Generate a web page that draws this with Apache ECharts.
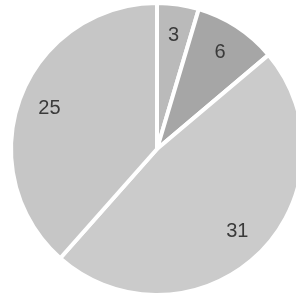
<!DOCTYPE html>
<html>
<head>
<meta charset="utf-8">
<style>
  html, body { margin: 0; padding: 0; background: #fff; }
  #chart { width: 296px; height: 297px; }
</style>
<script src="https://cdn.jsdelivr.net/npm/echarts@6/dist/echarts.min.js"></script>
</head>
<body>
<div id="chart"></div>
<script>
const values = [3, 6, 31, 25];
const colors = ['#bababa', '#a6a6a6', '#cbcbcb', '#c6c6c6'];

const chart = echarts.init(document.getElementById('chart'));

const center = [157, 149];

chart.setOption({
  animation: false,
  series: [
    {
      type: 'pie',
      center: center,
      radius: 146,
      startAngle: 90,
      clockwise: true,
      silent: true,
      label: { show: false },
      labelLine: { show: false },
      itemStyle: { borderColor: '#fff', borderWidth: 4 },
      data: values.map((v, i) => ({ value: v, itemStyle: { color: colors[i] } }))
    },
    {
      // transparent ring only used to place the labels near the rim
      type: 'pie',
      center: center,
      radius: [78, 146],
      startAngle: 90,
      clockwise: true,
      silent: true,
      itemStyle: { color: 'rgba(0,0,0,0)' },
      label: {
        show: true,
        position: 'inside',
        formatter: '{c}',
        color: '#3a3a3a',
        fontSize: 20,
        fontFamily: 'Liberation Sans'
      },
      labelLine: { show: false },
      data: values.map(v => ({ value: v }))
    }
  ]
});
</script>
</body>
</html>
